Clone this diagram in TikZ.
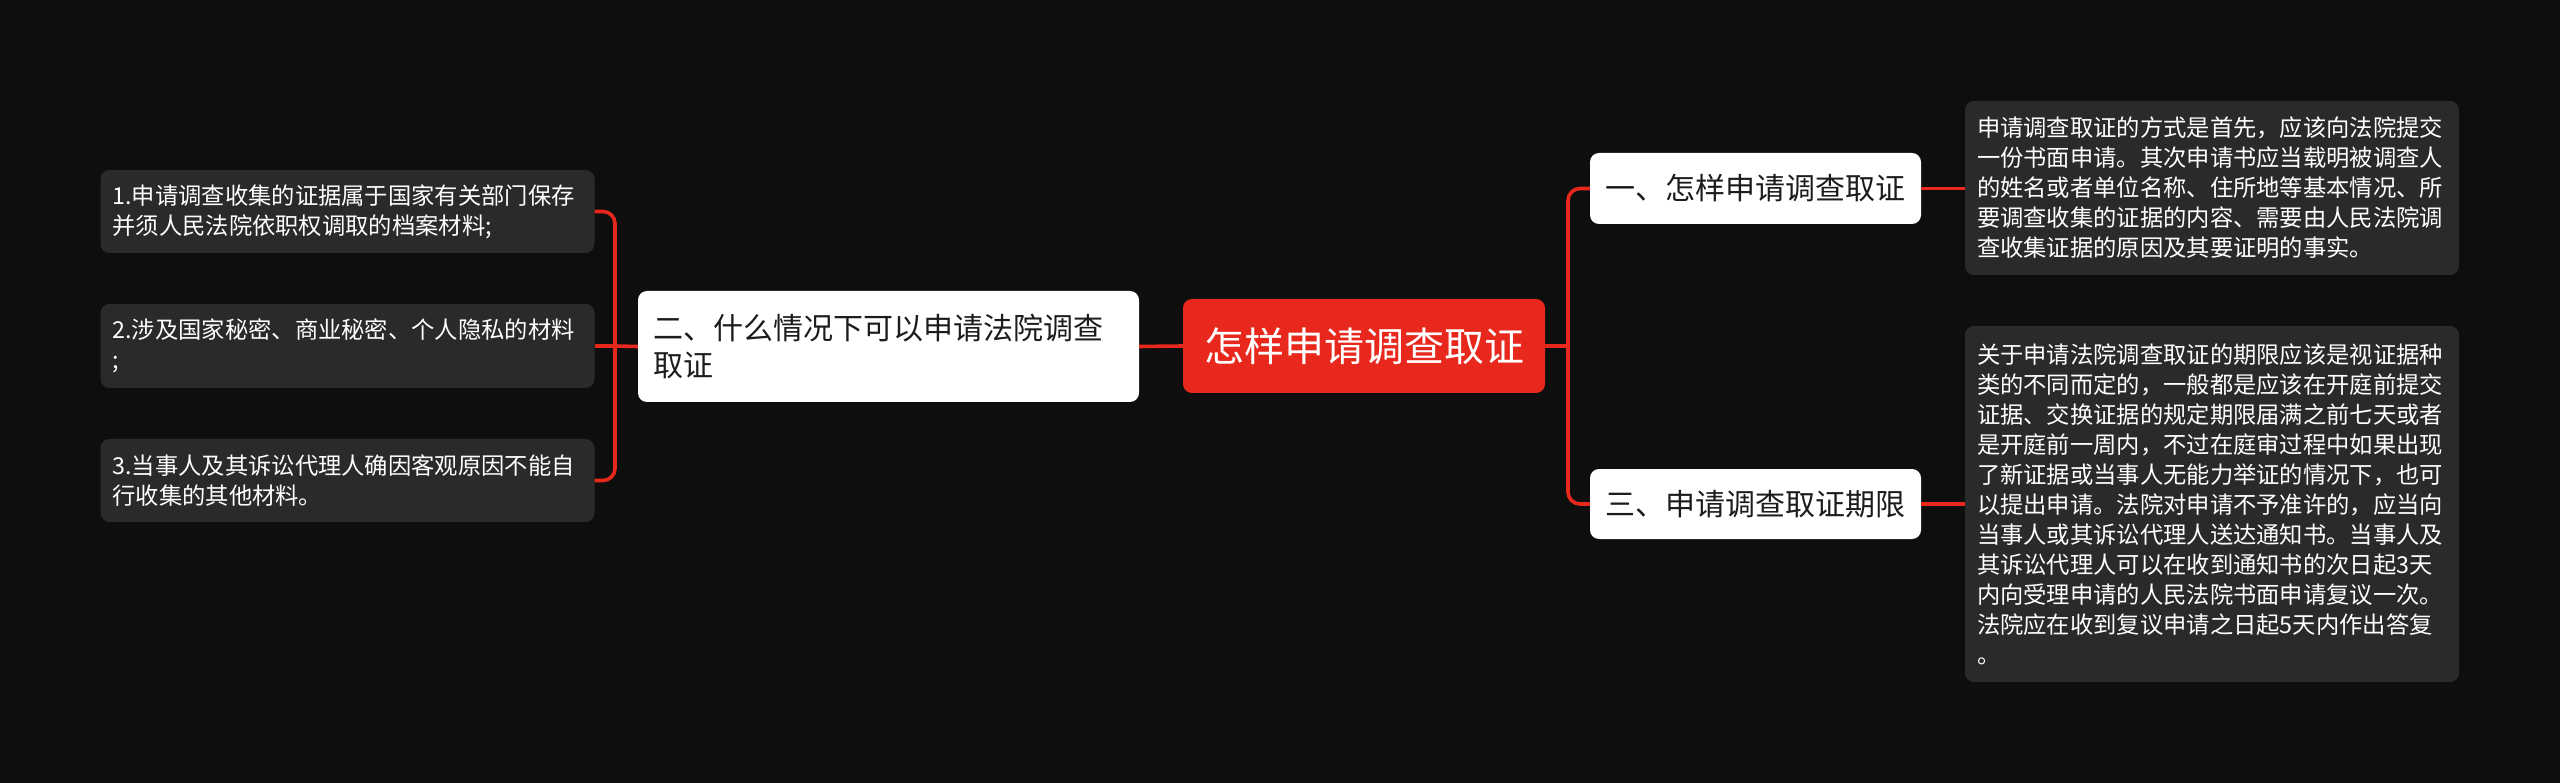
\documentclass[tikz,border=0pt]{standalone}
\usepackage{fontspec}
\setmainfont{Noto Sans CJK SC}
\definecolor{bg}{RGB}{14,14,14}
\definecolor{leafgray}{RGB}{42,42,42}
\definecolor{mred}{RGB}{232,40,28}
\definecolor{darktxt}{RGB}{28,28,28}
\begin{document}
\begin{tikzpicture}[x=1pt,y=-1pt,
  conn/.style={draw=mred,line width=3.6pt},
  leafbox/.style={fill=leafgray,rounded corners=9pt,text=white,align=left,
    inner xsep=12pt,inner ysep=0pt,text width=470pt,
    font=\fontsize{23.3}{30}\selectfont},
  branchbox/.style={fill=white,rounded corners=9pt,text=darktxt,align=left,
    inner xsep=15pt,inner ysep=0pt,font=\fontsize{30}{37}\selectfont},
  rootbox/.style={fill=mred,rounded corners=9pt,text=white,align=center,
    inner sep=0pt,font=\fontsize{40}{48}\selectfont}]
\useasboundingbox (0,0) rectangle (2560,783);
\fill[bg] (0,0) rectangle (2560,783);

% root
\node[rootbox,minimum width=362pt,minimum height=94pt] (root) at (1364,346) {怎样申请调查取证};

% left branch
\node[branchbox,text width=471pt,minimum width=501pt,minimum height=111pt] (b2) at (888.5,346.5)
  {二、什么情况下可以申请法院调查\\取证};

% left leaves
\node[leafbox,minimum width=494pt,minimum height=83pt] (l1) at (347.5,211.5)
  {1.申请调查收集的证据属于国家有关部门保存\\并须人民法院依职权调取的档案材料;};
\node[leafbox,minimum width=494pt,minimum height=84pt] (l2) at (347.5,346)
  {2.涉及国家秘密、商业秘密、个人隐私的材料\\;};
\node[leafbox,minimum width=494pt,minimum height=83pt] (l3) at (347.5,480.5)
  {3.当事人及其诉讼代理人确因客观原因不能自\\行收集的其他材料。};

% right branches
\node[branchbox,text width=301pt,minimum width=331pt,minimum height=71pt] (b1) at (1755.5,188.5)
  {一、怎样申请调查取证};
\node[branchbox,text width=301pt,minimum width=331pt,minimum height=70pt] (b3) at (1755.5,504)
  {三、申请调查取证期限};

% right leaves
\node[leafbox,minimum width=494pt,minimum height=174pt] (r1) at (2212,188)
  {申请调查取证的方式是首先，应该向法院提交\\一份书面申请。其次申请书应当载明被调查人\\的姓名或者单位名称、住所地等基本情况、所\\要调查收集的证据的内容、需要由人民法院调\\查收集证据的原因及其要证明的事实。};
\node[leafbox,minimum width=494pt,minimum height=356pt] (r2) at (2212,504)
  {关于申请法院调查取证的期限应该是视证据种\\类的不同而定的，一般都是应该在开庭前提交\\证据、交换证据的规定期限届满之前七天或者\\是开庭前一周内，不过在庭审过程中如果出现\\了新证据或当事人无能力举证的情况下，也可\\以提出申请。法院对申请不予准许的，应当向\\当事人或其诉讼代理人送达通知书。当事人及\\其诉讼代理人可以在收到通知书的次日起3天\\内向受理申请的人民法院书面申请复议一次。\\法院应在收到复议申请之日起5天内作出答复\\。};

% junctions
\coordinate (rj) at (1568,346);
\coordinate (lj) at (615,346);

% connectors
\draw[conn] (root.east) -- (rj);
\draw[conn,rounded corners=12pt] (rj) |- (b1.west);
\draw[conn,rounded corners=12pt] (rj) |- (b3.west);
\draw[conn] (root.west) -- (b2.east);
\draw[conn] (b2.west) -- (lj);
\draw[conn,rounded corners=12pt] (lj) |- (l1.east);
\draw[conn,rounded corners=12pt] (lj) |- (l3.east);
\draw[conn] (lj) -- (l2.east);
\draw[conn] (b1.east) -- (b1.east -| r1.west);
\draw[conn] (b3.east) -- (b3.east -| r2.west);
\end{tikzpicture}
\end{document}
